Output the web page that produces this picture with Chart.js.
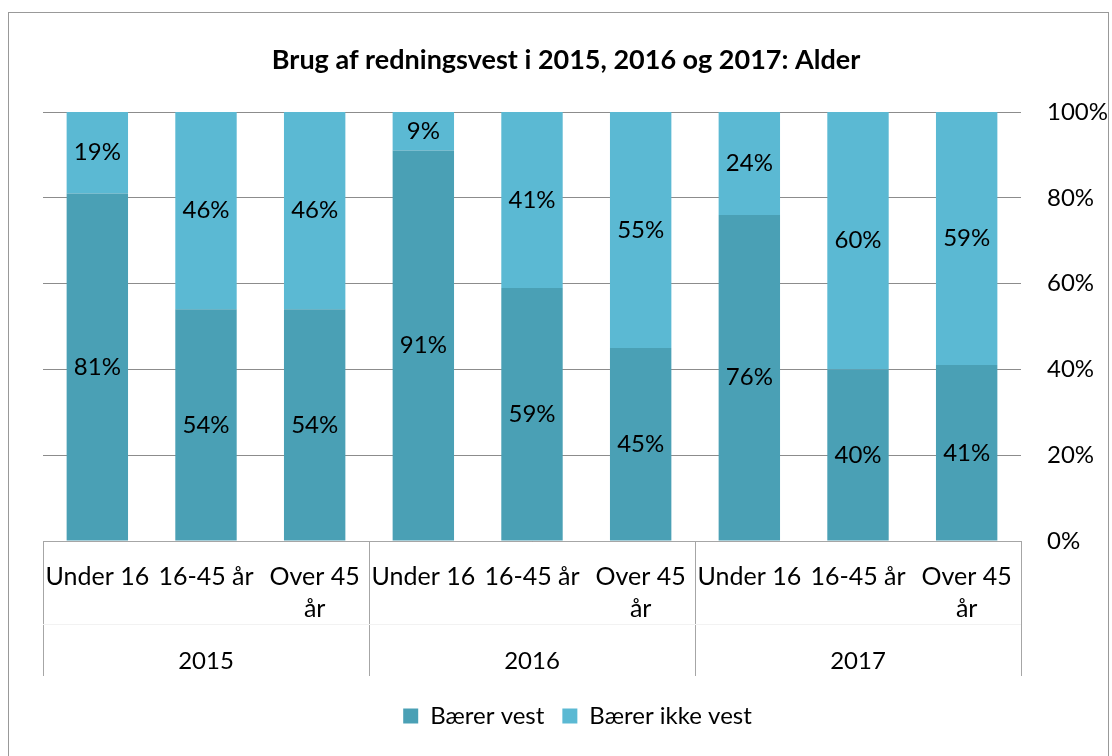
<!DOCTYPE html>
<html>
<head>
<meta charset="utf-8">
<script src="https://cdn.jsdelivr.net/npm/chart.js@4"></script>
<style>
  html, body { margin: 0; padding: 0; background: #fff; }
  #wrap { width: 1112px; height: 756px; }
</style>
</head>
<body>
<div id="wrap"><canvas id="bar-chart"></canvas></div>
<script>
const chartTitle = 'Brug af redningsvest i 2015, 2016 og 2017: Alder';
const years = ['2015', '2016', '2017'];
const ageLabels = [
  'Under 16', '16-45 år', ['Over 45', 'år'],
  'Under 16', '16-45 år', ['Over 45', 'år'],
  'Under 16', '16-45 år', ['Over 45', 'år']
];
const baererVest = [81, 54, 54, 91, 59, 45, 76, 40, 41];
const baererIkkeVest = [19, 46, 46, 9, 41, 55, 24, 60, 59];
const yTicks = [0, 20, 40, 60, 80, 100];

const FONT = 'Lato, "Open Sans", sans-serif';
Chart.defaults.font.family = FONT;
Chart.defaults.color = '#000';

// frame, title, year row, separators and bar value labels
const decor = {
  id: 'decor',
  beforeDraw(chart) {
    const c = chart.ctx;
    c.save();
    c.strokeStyle = '#999';
    c.lineWidth = 1;
    c.strokeRect(8.5, 12.5, 1100, 760);
    c.restore();
  },
  afterDraw(chart) {
    const c = chart.ctx, x = chart.scales.x, area = chart.chartArea;
    const bottom = area.bottom + 135;
    const per = ageLabels.length / years.length;
    c.save();
    c.strokeStyle = '#a6a6a6';
    c.lineWidth = 1;
    const edges = [area.left];
    for (let g = 1; g < years.length; g++) {
      edges.push((x.getPixelForValue(g * per - 1) + x.getPixelForValue(g * per)) / 2);
    }
    edges.push(area.right);
    c.beginPath();
    edges.forEach(e => {
      const px = Math.round(e) + 0.5;
      c.moveTo(px, area.bottom);
      c.lineTo(px, bottom);
    });
    c.stroke();
    c.strokeStyle = '#f2f2f2';
    c.beginPath();
    c.moveTo(area.left, area.bottom + 83.5);
    c.lineTo(area.right, area.bottom + 83.5);
    c.stroke();
    c.fillStyle = '#000';
    c.textAlign = 'center';
    c.textBaseline = 'middle';
    c.font = 'bold 27px ' + FONT;
    c.fillText(chartTitle, chart.width / 2 + 10, 60);
    c.font = '24px ' + FONT;
    years.forEach((y, i) => {
      c.fillText(y, (edges[i] + edges[i + 1]) / 2, area.bottom + 120);
    });
    chart.data.datasets.forEach((ds, di) => {
      chart.getDatasetMeta(di).data.forEach((bar, i) => {
        c.fillText(ds.data[i] + '%', bar.x, (bar.y + bar.base) / 2);
      });
    });
    c.restore();
  }
};

new Chart(document.getElementById('bar-chart'), {
  type: 'bar',
  data: {
    labels: ageLabels,
    datasets: [
      {
        label: 'Bærer vest',
        backgroundColor: '#4aa0b5',
        data: baererVest
      },
      {
        label: 'Bærer ikke vest',
        backgroundColor: '#5bb9d3',
        data: baererIkkeVest
      }
    ]
  },
  options: {
    responsive: true,
    maintainAspectRatio: false,
    animation: false,
    layout: { padding: { left: 43, right: 0, top: 112, bottom: 18 } },
    datasets: { bar: { categoryPercentage: 1, barPercentage: 0.565 } },
    plugins: {
      title: { display: false },
      legend: {
        position: 'bottom',
        labels: {
          boxWidth: 15, boxHeight: 15, padding: 18,
          font: { size: 24 }, color: '#000'
        }
      },
      tooltip: { enabled: false }
    },
    scales: {
      x: {
        stacked: true,
        grid: { display: false },
        border: { display: true, color: '#a6a6a6' },
        ticks: { font: { size: 25, lineHeight: 1.28 }, padding: 12, maxRotation: 0, autoSkip: false },
        afterFit: s => { s.height = 145; }
      },
      y: {
        stacked: true,
        position: 'right',
        min: 0, max: 100,
        afterBuildTicks: s => { s.ticks = yTicks.map(v => ({ value: v })); },
        grid: { color: '#8c8c8c', drawTicks: false },
        border: { display: false },
        ticks: { font: { size: 24 }, padding: 26, callback: v => v + '%' },
        afterFit: s => { s.width = 91; }
      }
    }
  },
  plugins: [decor]
});
</script>
</body>
</html>
